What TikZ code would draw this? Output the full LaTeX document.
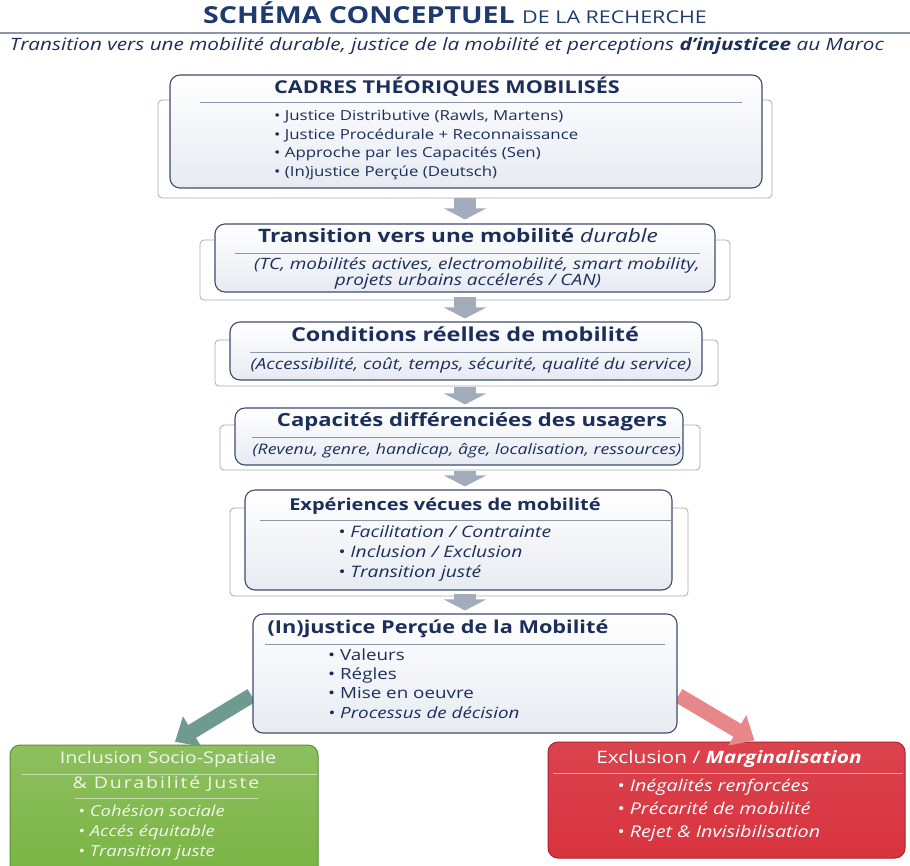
\documentclass[tikz,border=0pt]{standalone}
\usepackage{fontspec}
\setmainfont{Open Sans}[FakeStretch=1.22]
\usetikzlibrary{arrows.meta,calc}
\definecolor{navy}{HTML}{1C2F5A}
\definecolor{titlenavy}{HTML}{1F3B6E}
\definecolor{rulegray}{HTML}{8C96A8}
\definecolor{boxborder}{HTML}{3F4C6B}
\definecolor{boxfill}{HTML}{E7EBF2}
\definecolor{panelgray}{HTML}{A4ACBA}
\definecolor{arrowgray}{HTML}{A3ACBA}
\definecolor{greenfill}{HTML}{79B443}
\definecolor{greenborder}{HTML}{5C8F34}
\definecolor{greentext}{HTML}{F1F7EA}
\definecolor{greenrule}{HTML}{C4DEAE}
\definecolor{redfill}{HTML}{D8333E}
\definecolor{redborder}{HTML}{A82030}
\definecolor{redrule}{HTML}{F0A3A6}
\definecolor{greenarrow}{HTML}{6E9A90}
\definecolor{redarrow}{HTML}{E8878A}
\newcommand{\fs}[1]{\fontsize{#1}{#1}\selectfont}
\begin{document}
\begin{tikzpicture}[x=1pt,y=-1pt,
  mainbox/.style={draw=boxborder, line width=1.1pt, rounded corners=10pt,
    top color=white, bottom color=boxfill, inner sep=0pt},
  panel/.style={draw=panelgray, line width=0.8pt, rounded corners=4pt, fill=white},
  sep/.style={draw=rulegray, line width=0.8pt},
  downarrow/.style={draw=arrowgray, line width=22pt,
    -{Triangle[width=42pt,length=11pt]}},
  ttl/.style={text=navy, anchor=mid, inner sep=0pt},
  sub/.style={text=navy, anchor=mid, inner sep=0pt},
  item/.style={text=navy, anchor=mid west, inner sep=0pt},
  gitem/.style={text=greentext, font=\fs{15.1}\itshape, anchor=mid west, inner sep=0pt},
  ritem/.style={text=white, font=\fs{16.2}\itshape, anchor=mid west, inner sep=0pt}
]
\useasboundingbox (0,0) rectangle (910,865);
\fill[white] (0,0) rectangle (910,865);

% header
\node[text=titlenavy, anchor=mid, inner sep=0pt] (title) at (455,21)
  {\fs{23.4}\bfseries SCHÉMA CONCEPTUEL \fs{17.6}\mdseries DE LA RECHERCHE};
\coordinate (hl) at (0,33);
\coordinate (hr) at (910,33);
\draw[draw=rulegray, line width=1.6pt] (hl) -- (hr);
\node[text=navy, anchor=mid, inner sep=0pt] (subtitle) at (447,48)
  {\fs{17}\itshape Transition vers une mobilité durable, justice de la mobilité et perceptions \textbf{d'injusticee} au Maroc};

% back panels
\node[panel, minimum width=614pt, minimum height=98pt] (p1) at (465,149) {};
\node[panel, minimum width=530pt, minimum height=60pt] (p2) at (465,270) {};
\node[panel, minimum width=503pt, minimum height=46pt] (p3) at (466.5,363) {};
\node[panel, minimum width=480pt, minimum height=45pt] (p4) at (460,447.5) {};
\node[panel, minimum width=458pt, minimum height=88pt] (p5) at (459,552) {};

% main boxes
\node[mainbox, minimum width=592pt, minimum height=113pt] (b1) at (466,131.5) {};
\node[mainbox, minimum width=500pt, minimum height=68pt] (b2) at (465,258) {};
\node[mainbox, minimum width=472pt, minimum height=58pt] (b3) at (466,351) {};
\node[mainbox, minimum width=448pt, minimum height=57pt] (b4) at (459,436.5) {};
\node[mainbox, minimum width=427pt, minimum height=100pt] (b5) at (458.5,540) {};

% down arrows
\draw[downarrow, shorten <=9pt, shorten >=4pt] (b1.south -| 465,0) -- (b2.north -| 465,0);
\draw[downarrow, shorten <=4pt, shorten >=3pt] (b2.south -| 465,0) -- (b3.north -| 465,0);
\draw[downarrow, shorten <=6pt, shorten >=3pt] (b3.south -| 465,0) -- (b4.north -| 465,0);
\draw[downarrow, shorten <=5pt, shorten >=3pt] (b4.south -| 465,0) -- (b5.north -| 465,0);

% bottom boxes
\path[top color=greenfill!85!white, bottom color=greenfill, draw=greenborder, line width=1pt, rounded corners=10pt]
  (10,880) -- (10,745) -- (318,745) -- (318,880);
\node[inner sep=0pt, minimum width=308pt, minimum height=120pt] (gbox) at (164,805) {};
\node[draw=redborder, top color=redfill!92!white, bottom color=redfill, line width=1pt, rounded corners=10pt,
  minimum width=357pt, minimum height=116pt, inner sep=0pt] (rbox) at (726.5,800) {};

% diagonal arrows
\coordinate (gtail) at ($(b5.south west)+(7,105)$);
\coordinate (rtail) at ($(b5.south east)+(6,105)$);
\draw[draw=greenarrow, line width=15pt, -{Triangle[width=34pt,length=20pt]}]
  (gtail) -- ($(gbox.north)+(11,-3)$);
\draw[draw=redarrow, line width=15pt, -{Triangle[width=34pt,length=20pt]}]
  (rtail) -- ($(rbox.north)+(28,-1)$);

\node[mainbox, minimum width=424pt, minimum height=119pt] (b6) at (465,673.5) {};

\draw[downarrow, shorten <=3pt, shorten >=3pt] (b5.south -| 465,0) -- (b6.north -| 465,0);

% box 1 content
\node[ttl, font=\fs{17.7}\bfseries] (t1) at (447,91) {CADRES THÉORIQUES MOBILISÉS};
\coordinate (s1a) at (200,102); \coordinate (s1b) at (742,102);
\draw[sep] (s1a) -- (s1b);
\node[item, font=\fs{13.8}] (i11) at (274,118) {• Justice Distributive (Rawls, Martens)};
\node[item, font=\fs{13.8}] (i12) at (274,136.5) {• Justice Procédurale + Reconnaissance};
\node[item, font=\fs{13.8}] (i13) at (274,155) {• Approche par les Capacités (Sen)};
\node[item, font=\fs{13.8}] (i14) at (274,173.5) {• (In)justice Perçúe (Deutsch)};

% box 2 content
\node[ttl, font=\fs{18.5}\bfseries] (t2) at (458,240) {Transition vers une mobilité \textit{\mdseries durable}};
\coordinate (s2a) at (235,253); \coordinate (s2b) at (700,253);
\draw[sep] (s2a) -- (s2b);
\node[sub, font=\fs{15.6}\itshape] (u21) at (477,267) {(TC, mobilités actives, electromobilité, smart mobility,};
\node[sub, font=\fs{15.6}\itshape] (u22) at (468,283) {projets urbains accélerés / CAN)};

% box 3 content
\node[ttl, font=\fs{19.2}\bfseries] (t3) at (465,339) {Conditions réelles de mobilité};
\coordinate (s3a) at (250,352); \coordinate (s3b) at (690,352);
\draw[sep] (s3a) -- (s3b);
\node[sub, font=\fs{15.3}\itshape] (u31) at (471,367) {(Accessibilité, coût, temps, sécurité, qualité du service)};

% box 4 content
\node[ttl, font=\fs{18.1}\bfseries] (t4) at (472,424) {Capacités différenciées des usagers};
\coordinate (s4a) at (252,437); \coordinate (s4b) at (680,437);
\draw[sep] (s4a) -- (s4b);
\node[sub, font=\fs{14.5}\itshape] (u41) at (467,452) {(Revenu, genre, handicap, âge, localisation, ressources)};

% box 5 content
\node[ttl, font=\fs{16.4}\bfseries] (t5) at (445,508) {Expériences vécues de mobilité};
\coordinate (s5a) at (260,520); \coordinate (s5b) at (672,520);
\draw[sep] (s5a) -- (s5b);
\node[item, font=\fs{15.8}\itshape] (i51) at (338,535) {• Facilitation / Contrainte};
\node[item, font=\fs{15.8}\itshape] (i52) at (338,555) {• Inclusion / Exclusion};
\node[item, font=\fs{15.8}\itshape] (i53) at (338,575) {• Transition justé};

% box 6 content
\node[ttl, font=\fs{17.8}\bfseries] (t6) at (438,631) {(In)justice Perçúe de la Mobilité};
\coordinate (s6a) at (265,644); \coordinate (s6b) at (665,644);
\draw[sep] (s6a) -- (s6b);
\node[item, font=\fs{15.4}] (i61) at (328,658) {• Valeurs};
\node[item, font=\fs{15.4}] (i62) at (328,677) {• Régles};
\node[item, font=\fs{15.4}] (i63) at (328,696) {• Mise en oeuvre};
\node[item, font=\fs{15.4}\itshape] (i64) at (328,716) {• Processus de décision};

% green box content
\node[text=greentext, font=\fs{16.2}, anchor=mid, inner sep=0pt] (gt1) at (168,761) {Inclusion Socio-Spatiale};
\coordinate (gsa) at (22,774); \coordinate (gsb) at (317,774);
\draw[draw=greenrule, line width=0.8pt] (gsa) -- (gsb);
\node[text=greentext, font=\fs{16}\addfontfeatures{LetterSpace=12}, anchor=mid, inner sep=0pt] (gt2) at (166,786) {\& Durabilité Juste};
\coordinate (gsc) at (75,798); \coordinate (gsd) at (258,798);
\draw[draw=greenrule, line width=0.8pt] (gsc) -- (gsd);
\node[gitem] (g1) at (78,814) {• Cohésion sociale};
\node[gitem] (g2) at (78,834) {• Accés équitable};
\node[gitem] (g3) at (78,854) {• Transition juste};

% red box content
\node[text=white, font=\fs{17.1}, anchor=mid, inner sep=0pt] (rt1) at (729,761) {Exclusion / \textbf{\textit{Marginalisation}}};
\coordinate (rsa) at (553,773); \coordinate (rsb) at (903,773);
\draw[draw=redrule, line width=0.8pt] (rsa) -- (rsb);
\node[ritem] (r1) at (617,789) {• Inégalités renforcées};
\node[ritem] (r2) at (617,812) {• Précarité de mobilité};
\node[ritem] (r3) at (617,835) {• Rejet \& Invisibilisation};
\end{tikzpicture}
\end{document}
